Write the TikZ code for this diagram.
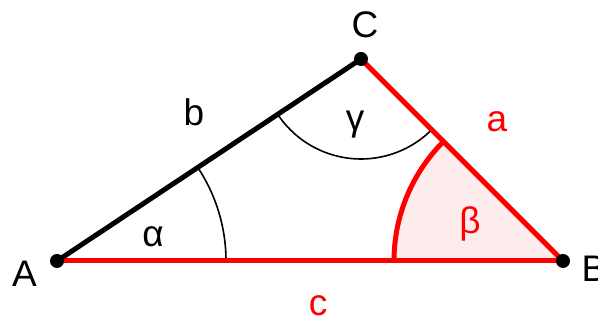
\documentclass[tikz,border=0pt]{standalone}
\usepackage{fontspec}
\setmainfont{Liberation Sans}
\definecolor{tred}{RGB}{255,0,0}
\definecolor{tpink}{RGB}{252,236,236}
\begin{document}
\begin{tikzpicture}[x=1pt,y=1pt,
  lbl/.style={inner sep=0pt,font=\fontsize{37}{40}\selectfont},
  vdot/.style={circle,fill=black,inner sep=0pt,minimum size=14pt},
  side/.style={line width=5pt},
  thinarc/.style={line width=1.6pt,black}]
\useasboundingbox (0,0) rectangle (598,320);
\coordinate (A) at (57,59);
\coordinate (B) at (563,59);
\coordinate (C) at (361,261);
% beta sector fill
\fill[tpink] (B) -- ++(180:169) arc[start angle=180,end angle=135,radius=169] -- cycle;
% thin angle arcs
\draw[thinarc] (A) ++(0:169) arc[start angle=0,end angle=33.6,radius=169];
\draw[thinarc] (C) ++(213.6:100) arc[start angle=213.6,end angle=315,radius=100];
% sides
\draw[side,tred] (A) -- (B);
\draw[side,tred] (B) -- (C);
\draw[side,black] (A) -- (C);
% beta arc
\draw[side,tred] (B) ++(180:169) arc[start angle=180,end angle=135,radius=169];
% vertices
\node[vdot] (dA) at (A) {};
\node[vdot] (dB) at (B) {};
\node[vdot] (dC) at (C) {};
% labels
\node[lbl] (lA) at (24.5,46) {A};
\node[lbl] (lB) at (594,51.5) {B};
\node[lbl] (lC) at (365,295) {C};
\node[lbl] (lb) at (194,207.5) {b};
\node[lbl,text=tred] (la) at (497,198) {a};
\node[lbl,text=tred] (lc) at (318,14) {c};
\node[lbl] (lal) at (153,83.3) {α};
\node[lbl,text=tred] (lbe) at (470,96) {β};
\node[lbl] (lga) at (355,195) {γ};
\end{tikzpicture}
\end{document}
